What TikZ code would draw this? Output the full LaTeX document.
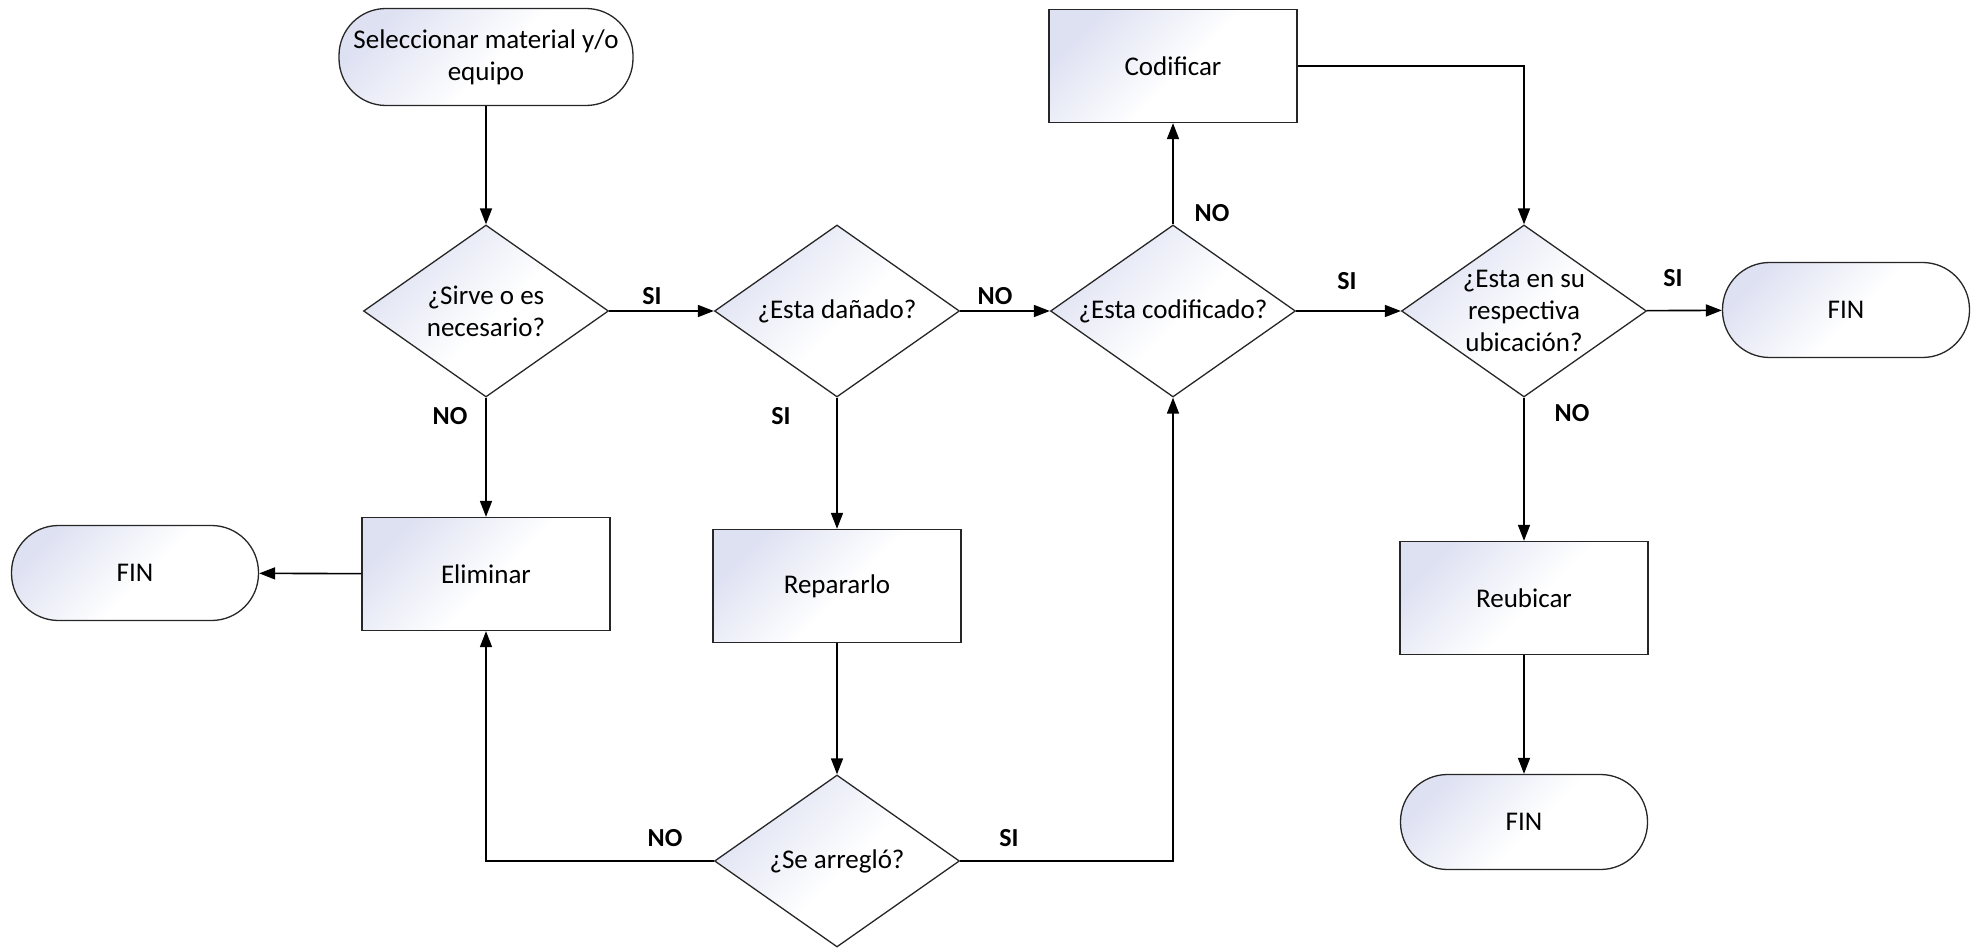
\documentclass[tikz,border=0pt]{standalone}
\usepackage{fontspec}
\setmainfont{Carlito}
\usetikzlibrary{shapes.geometric,arrows.meta}
\definecolor{shadetop}{RGB}{222,225,242}
% pale fill fading to white before the middle of the shape
\pgfdeclareverticalshading{paleshade}{100bp}{color(0bp)=(white); color(25bp)=(white); color(47bp)=(white); color(75bp)=(shadetop); color(100bp)=(shadetop)}
\begin{document}
\begin{tikzpicture}[x=1pt,y=-1pt,
  font=\fontsize{27}{32}\selectfont,
  shapeline/.style={draw=black!85, line width=1.3pt, shade, shading=paleshade, shading angle=45},
  terminal/.style={shapeline, rectangle, rounded corners=47pt, minimum width=247pt, minimum height=95pt, inner sep=0pt, align=center},
  process/.style={shapeline, rectangle, minimum width=248pt, minimum height=113pt, inner sep=0pt, align=center},
  decision/.style={shapeline, diamond, minimum width=245pt, minimum height=172pt, inner sep=0pt},
  qtext/.style={align=center, inner sep=0pt},
  flow/.style={line width=1.6pt, -{Triangle[length=16pt,width=12pt]}},
  tag/.style={font=\fontsize{26}{30}\selectfont\bfseries, inner sep=0pt}
]
\useasboundingbox (0,0) rectangle (1976,949);

% terminals
\node[terminal, minimum width=294pt, minimum height=97pt] (start) at (486,57) {Seleccionar material y/o\\equipo};
\node[terminal] (finL) at (135,573) {FIN};
\node[terminal] (finR) at (1846,310) {FIN};
\node[terminal] (finB) at (1524,822) {FIN};

% processes
\node[process] (codif) at (1173,66) {Codificar};
\node[process] (elim) at (486,574) {Eliminar};
\node[process] (repar) at (837,586) {Repararlo};
\node[process] (reub) at (1524,598) {Reubicar};

% decisions (text set on top of each diamond)
\node[decision] (d1) at (486,311) {};
\node[qtext] (d1t) at (d1) {¿Sirve o es\\necesario?};
\node[decision] (d2) at (837,311) {};
\node[qtext] (d2t) at (d2) {¿Esta dañado?};
\node[decision] (d3) at (1173,311) {};
\node[qtext] (d3t) at (d3) {¿Esta codificado?};
\node[decision] (d4) at (1524,311) {};
\node[qtext] (d4t) at (d4) {¿Esta en su\\respectiva\\ubicación?};
\node[decision] (d5) at (837,861) {};
\node[qtext] (d5t) at (d5) {¿Se arregló?};

% connectors
\draw[flow] (start) -- (d1);
\draw[flow] (d1) -- (elim);
\draw[flow] (d1) -- (d2);
\draw[flow] (d2) -- (d3);
\draw[flow] (d3) -- (d4);
\draw[flow] (d4) -- (finR);
\draw[flow] (d3) -- (codif);
\draw[flow] (codif.east) -| (d4.north);
\draw[flow] (d2) -- (repar);
\draw[flow] (repar) -- (d5);
\draw[flow] (d5.west) -| (elim.south);
\draw[flow] (d5.east) -| (d3.south);
\draw[flow] (elim) -- (finL);
\draw[flow] (d4) -- (reub);
\draw[flow] (reub) -- (finB);

% branch labels
\node[tag] (t1) at (450,416) {NO};
\node[tag] (t2) at (652,296) {SI};
\node[tag] (t3) at (995,296) {NO};
\node[tag] (t4) at (1347,281) {SI};
\node[tag] (t5) at (1673,278) {SI};
\node[tag] (t6) at (1212,213) {NO};
\node[tag] (t7) at (781,416) {SI};
\node[tag] (t8) at (1572,413) {NO};
\node[tag] (t9) at (665,838) {NO};
\node[tag] (t10) at (1009,838) {SI};
\end{tikzpicture}
\end{document}
